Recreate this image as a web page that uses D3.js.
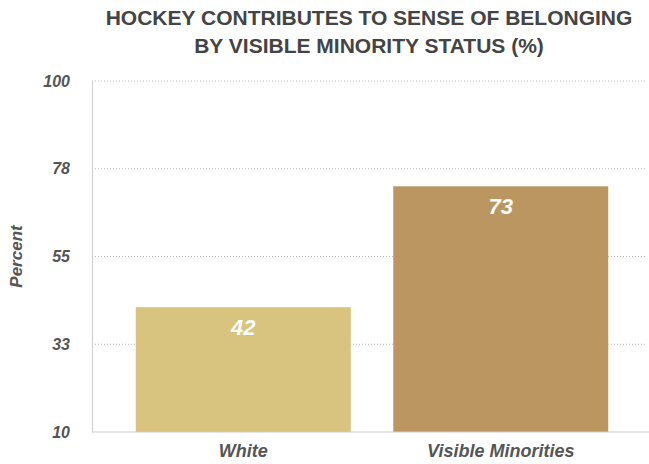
<!DOCTYPE html>
<html>
<head>
<meta charset="utf-8">
<script src="https://cdn.jsdelivr.net/npm/d3@7"></script>
<style>
  body { margin: 0; background: #fff; }
  text { font-family: "Liberation Sans", Arial, sans-serif; }
</style>
</head>
<body>
<script>
const width = 649, height = 464
const margin = {top: 81, right: 0, bottom: 32, left: 92}

const categories = ["White", "Visible Minorities"]
const values = [42, 73]
const colors = ["#d8c47e", "#bb9660"]
const tickValues = [10, 32.5, 55, 77.5, 100]
const tickLabels = ["10", "33", "55", "78", "100"]
const titleLines = ["HOCKEY CONTRIBUTES TO SENSE OF BELONGING", "BY VISIBLE MINORITY STATUS (%)"]

const svg = d3.select("body").append("svg")
    .attr("width", width)
    .attr("height", height)

const x = d3.scaleBand()
    .domain(categories)
    .range([margin.left, 652])
    .paddingInner(0.165)
    .paddingOuter(0.17)

const y = d3.scaleLinear()
    .domain([10, 100])
    .range([height - margin.bottom, margin.top])

// Title
svg.append("text")
    .attr("x", 369)
    .attr("y", 25)
    .attr("text-anchor", "middle")
    .attr("font-size", 21)
    .attr("font-weight", "bold")
    .attr("fill", "#444")
    .selectAll("tspan").data(titleLines).enter()
    .append("tspan")
    .attr("x", 369)
    .attr("dy", (d, i) => i ? 28 : 0)
    .text(d => d)

// Grid lines
svg.append("g")
    .selectAll("line").data(tickValues.slice(1)).enter()
    .append("line")
    .attr("x1", margin.left)
    .attr("x2", 645)
    .attr("y1", d => y(d))
    .attr("y2", d => y(d))
    .attr("stroke", "#bbb")
    .attr("stroke-dasharray", "1,2")

// Y axis
const yAxis = svg.append("g")
    .attr("transform", `translate(${margin.left},0)`)
    .call(d3.axisLeft(y).tickValues(tickValues).tickFormat((d, i) => tickLabels[i]).tickSize(0).tickPadding(22))
yAxis.select(".domain").attr("stroke", "#ccc")
yAxis.selectAll("text")
    .attr("font-size", 16)
    .attr("font-style", "italic")
    .attr("font-weight", "bold")
    .attr("fill", "#555")
    .attr("font-family", "Liberation Sans, Arial, sans-serif")

// Bars
svg.append("g")
    .selectAll("rect").data(values).enter()
    .append("rect")
    .attr("x", (d, i) => x(categories[i]))
    .attr("y", d => y(d))
    .attr("width", x.bandwidth())
    .attr("height", d => y(10) - y(d))
    .attr("fill", (d, i) => colors[i])

// Baseline
svg.append("line")
    .attr("x1", margin.left)
    .attr("x2", 649)
    .attr("y1", y(10))
    .attr("y2", y(10))
    .attr("stroke", "#ccc")

// Value labels
svg.append("g")
    .selectAll("text").data(values).enter()
    .append("text")
    .attr("x", (d, i) => x(categories[i]) + x.bandwidth() / 2)
    .attr("y", d => y(d) + 28)
    .attr("text-anchor", "middle")
    .attr("font-size", 22)
    .attr("font-style", "italic")
    .attr("font-weight", "bold")
    .attr("fill", "#fff")
    .text(d => d)

// X labels
svg.append("g")
    .selectAll("text").data(categories).enter()
    .append("text")
    .attr("x", d => x(d) + x.bandwidth() / 2)
    .attr("y", 457)
    .attr("text-anchor", "middle")
    .attr("font-size", 18)
    .attr("font-style", "italic")
    .attr("font-weight", "bold")
    .attr("fill", "#555")
    .text(d => d)

// Y axis label
svg.append("text")
    .attr("transform", `translate(22,${(y(10) + y(100)) / 2}) rotate(-90)`)
    .attr("text-anchor", "middle")
    .attr("font-size", 17)
    .attr("font-style", "italic")
    .attr("font-weight", "bold")
    .attr("fill", "#555")
    .text("Percent")
</script>
</body>
</html>
